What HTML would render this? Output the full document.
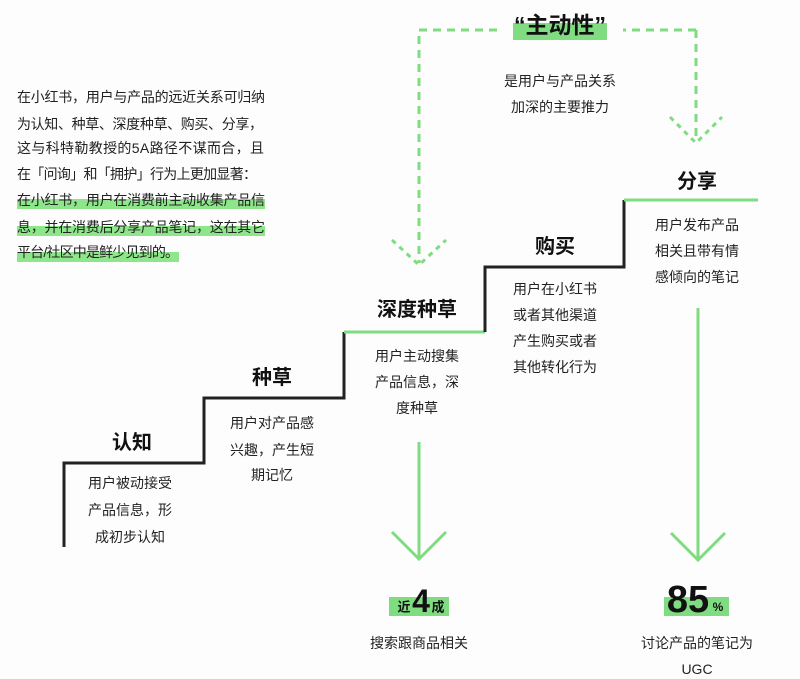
<!DOCTYPE html>
<html><head><meta charset="utf-8"><style>
html,body{margin:0;padding:0;background:#fff;}
svg{display:block;font-family:"Liberation Sans","Noto Sans CJK SC",sans-serif;}
</style></head><body>
<svg width="800" height="679" viewBox="0 0 800 679" xmlns="http://www.w3.org/2000/svg">
<rect width="800" height="679" fill="#fdfdfd"/>
<g fill="#8ee68a">
<rect x="17" y="199" width="248" height="10"/>
<rect x="17" y="226" width="248" height="10"/>
<rect x="17" y="252" width="162" height="10"/>
</g>
<g font-size="14" fill="#222" dominant-baseline="central">
<text x="17" y="97" textLength="248">在小红书，用户与产品的远近关系可归纳</text>
<text x="17" y="124" textLength="246">为认知、种草、深度种草、购买、分享，</text>
<text x="17" y="148" textLength="247">这与科特勒教授的5A路径不谋而合，且</text>
<text x="17" y="174" textLength="240">在「问询」和「拥护」行为上更加显著：</text>
<text x="17" y="200" textLength="248">在小红书，用户在消费前主动收集产品信</text>
<text x="17" y="227" textLength="248">息，并在消费后分享产品笔记，这在其它</text>
<text x="17" y="252" textLength="162">平台/社区中是鲜少见到的。</text>
</g>
<g stroke="#7fdc80" stroke-width="3" fill="none" stroke-dasharray="8,6">
<polyline points="497,30 419,30 419,263"/>
<polyline points="696,30 623,30"/>
<line x1="696" y1="30" x2="696" y2="141"/>
</g>
<g stroke="#7fdc80" stroke-width="3" fill="none" stroke-dasharray="5,5">
<polyline points="392,240 419,265 446,240"/>
<polyline points="670,117 696,143 722,117"/>
</g>
<rect x="513" y="23" width="94" height="17" fill="#7fdc80"/>
<text x="560" y="25" font-size="23" font-weight="bold" text-anchor="middle" dominant-baseline="central" fill="#111">“主动性”</text>
<g font-size="14" fill="#222" text-anchor="middle" dominant-baseline="central">
<text x="560" y="81">是用户与产品关系</text>
<text x="560" y="107">加深的主要推力</text>
</g>
<polyline points="64,547 64,463 204,463 204,398 344,398 344,332" stroke="#222" stroke-width="3" fill="none"/>
<line x1="344" y1="332" x2="485" y2="332" stroke="#7fdc80" stroke-width="3"/>
<polyline points="485,332 485,267 624,267 624,200" stroke="#222" stroke-width="3" fill="none"/>
<line x1="624" y1="200" x2="758" y2="200" stroke="#7fdc80" stroke-width="3"/>
<g font-size="20" font-weight="bold" fill="#111" text-anchor="middle" dominant-baseline="central">
<text x="132" y="443">认知</text>
<text x="272" y="378">种草</text>
<text x="417" y="310">深度种草</text>
<text x="555" y="247">购买</text>
<text x="697" y="182">分享</text>
</g>
<g font-size="14" fill="#222" text-anchor="middle" dominant-baseline="central">
<text x="130" y="483">用户被动接受</text>
<text x="130" y="510">产品信息，形</text>
<text x="130" y="537">成初步认知</text>
<text x="272" y="423">用户对产品感</text>
<text x="272" y="450">兴趣，产生短</text>
<text x="272" y="475">期记忆</text>
<text x="417" y="356">用户主动搜集</text>
<text x="417" y="382">产品信息，深</text>
<text x="417" y="408">度种草</text>
<text x="555" y="289">用户在小红书</text>
<text x="555" y="315">或者其他渠道</text>
<text x="555" y="341">产生购买或者</text>
<text x="555" y="367">其他转化行为</text>
<text x="697" y="225">用户发布产品</text>
<text x="697" y="251">相关且带有情</text>
<text x="697" y="277">感倾向的笔记</text>
</g>
<g stroke="#7fdc80" stroke-width="3" fill="none">
<line x1="419" y1="442" x2="419" y2="558"/>
<polyline points="392,532 419,559 446,532"/>
<line x1="698" y1="308" x2="698" y2="560"/>
<polyline points="671,533 698,560 725,533"/>
</g>
<rect x="389" y="597" width="60" height="19" fill="#7fdc80"/>
<text x="404" y="607" font-size="13" font-weight="bold" text-anchor="middle" dominant-baseline="central" fill="#111">近</text>
<text x="421" y="601" font-size="32" font-weight="bold" text-anchor="middle" dominant-baseline="central" fill="#111">4</text>
<text x="438" y="607" font-size="13" font-weight="bold" text-anchor="middle" dominant-baseline="central" fill="#111">成</text>
<rect x="664" y="597" width="65" height="19" fill="#7fdc80"/>
<text x="688" y="600" font-size="38" font-weight="bold" text-anchor="middle" dominant-baseline="central" fill="#111">85</text>
<text x="718" y="607" font-size="12" font-weight="bold" text-anchor="middle" dominant-baseline="central" fill="#111">%</text>
<g font-size="14" fill="#222" text-anchor="middle" dominant-baseline="central">
<text x="419" y="643">搜索跟商品相关</text>
<text x="697" y="643">讨论产品的笔记为</text>
<text x="697" y="669">UGC</text>
</g>
</svg>
</body></html>
